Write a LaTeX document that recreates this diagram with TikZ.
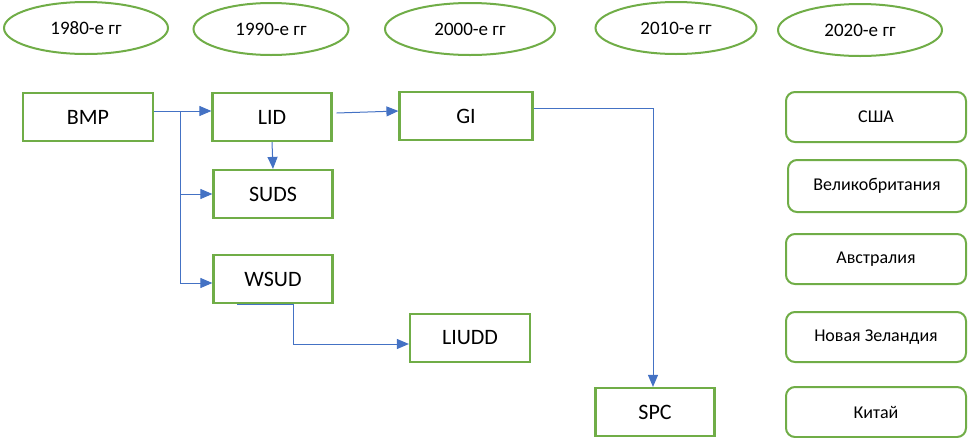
\documentclass[tikz,border=0pt]{standalone}
\usepackage{fontspec}
\setmainfont{Carlito}
\usetikzlibrary{shapes.geometric, arrows.meta, positioning}
\definecolor{FrameGreen}{HTML}{70AD47}
\definecolor{LinkBlue}{HTML}{4472C4}

\begin{document}
\begin{tikzpicture}[
        x=1pt, y=-1pt,
        % Эллипсы с десятилетиями
        decade/.style={
                ellipse,
                draw=FrameGreen,
                line width=2pt,
                minimum height=52pt,
                inner sep=0pt,
                font=\fontsize{19}{22}\selectfont
            },
        % Блоки с концепциями
        termbox/.style={
                rectangle,
                draw=FrameGreen,
                line width=2.2pt,
                minimum width=119pt,
                minimum height=48pt,
                inner sep=0pt,
                font=\fontsize{22}{26}\selectfont
            },
        % Блоки со странами
        countrybox/.style={
                rectangle,
                rounded corners=9pt,
                draw=FrameGreen,
                line width=2pt,
                minimum width=180pt,
                minimum height=50pt,
                inner sep=0pt,
                font=\fontsize{18}{22}\selectfont
            },
        % Стрелки
        arrow/.style={
                -{Triangle[length=12pt, width=10pt]},
                line width=1pt,
            color=LinkBlue
            }
    ]

    \useasboundingbox (0,0) rectangle (968,437);

    % Шкала времени
    \node[decade, minimum width=164pt] (d1980) at (86,28) {1980-е гг};
    \node[decade, minimum width=155pt] (d1990) at (271,29) {1990-е гг};
    \node[decade, minimum width=170pt] (d2000) at (470,29) {2000-е гг};
    \node[decade, minimum width=161pt] (d2010) at (676,28) {2010-е гг};
    \node[decade, minimum width=164pt] (d2020) at (860,30) {2020-е гг};

    % Концепции
    \node[termbox, minimum width=130pt] (bmp) at (88,117) {BMP};
    \node[termbox] (lid) at (272,117) {LID};
    \node[termbox, minimum width=133pt] (gi) at (466,116) {GI};
    \node[termbox] (suds) at (273,194) {SUDS};
    \node[termbox] (wsud) at (273,279) {WSUD};
    \node[termbox, minimum width=120pt] (liudd) at (470,338) {LIUDD};
    \node[termbox] (spc) at (655,412) {SPC};

    % Страны
    \node[countrybox] (usa) at (876,117) {США};
    \node[countrybox, minimum width=178pt, minimum height=52pt] (uk) at (877,186) {Великобритания};
    \node[countrybox] (aus) at (876,259) {Австралия};
    \node[countrybox] (nz) at (876,337) {Новая Зеландия};
    \node[countrybox] (china) at (876,412) {Китай};

    % Связи
    \coordinate (fork) at (180,111);
    \draw[arrow] ([yshift=6pt]bmp.east) -- ([yshift=6pt]lid.west);
    \draw[arrow] (fork) |- (suds.west);
    \draw[arrow] (fork) |- ([yshift=-4pt]wsud.west);
    \draw[arrow] (lid.south) -- (suds.north);
    \draw[arrow] ([xshift=4pt, yshift=4pt]lid.east) -- ([yshift=5pt]gi.west);
    \draw[arrow] ([yshift=8pt]gi.east) -| ([xshift=-2pt]spc.north);
    \draw[arrow] ([xshift=-36pt]wsud.south) -| (293,344) -- ([yshift=-6pt]liudd.west);

\end{tikzpicture}
\end{document}
